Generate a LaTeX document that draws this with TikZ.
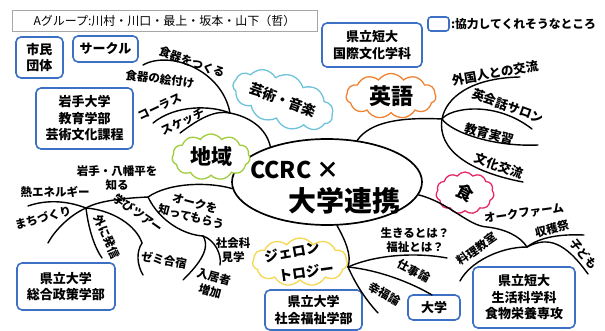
\documentclass[tikz,border=0pt]{standalone}
\usepackage{fontspec}
\setmainfont{Noto Sans CJK JP}
\usetikzlibrary{shapes.symbols,shapes.geometric}
\definecolor{boxblue}{RGB}{60,112,196}
\definecolor{chiikigreen}{RGB}{160,205,60}
\definecolor{artblue}{RGB}{110,195,220}
\definecolor{engorange}{RGB}{240,130,50}
\definecolor{foodpink}{RGB}{230,40,100}
\definecolor{geroyellow}{RGB}{245,215,80}
\tikzset{
  box/.style={draw=boxblue,line width=1.6pt,rounded corners=5pt,fill=white,align=center,inner sep=0pt,font=\fontsize{13}{16.5}\selectfont\bfseries},
  lbl/.style={font=\fontsize{11.5}{14.5}\selectfont\bfseries,inner sep=0.5pt,align=center},
  biglbl/.style={lbl,font=\fontsize{12.5}{15}\selectfont\bfseries},
  branch/.style={line width=1.4pt,line cap=round},
  puff/.style={cloud,cloud puffs=11,cloud puff arc=110,cloud ignores aspect,draw,line width=1.3pt,fill=white,inner sep=0pt}
}
\begin{document}
\begin{tikzpicture}[x=1pt,y=-1pt]
\useasboundingbox (0,0) rectangle (605,331);
% boxes
\node[draw=gray!70,line width=0.6pt,minimum width=305pt,minimum height=21pt,inner sep=0pt,font=\fontsize{12}{14}\selectfont] (team) at (164.5,20.5) {Aグループ:川村・川口・最上・坂本・山下（哲）};
\node[box,minimum width=21pt,minimum height=14pt,rounded corners=3pt] (key) at (438.5,24) {};
\node[anchor=west,inner sep=1pt,font=\fontsize{11.8}{14}\selectfont\bfseries] (keytext) at (key.east) {:協力してくれそうなところ};
\node[box,minimum width=100pt,minimum height=44pt] (kokusai) at (372,45) {県立短大\\国際文化学科};
\node[box,minimum width=47pt,minimum height=41pt] (shimin) at (39.5,57.5) {市民\\団体};
\node[box,minimum width=65pt,minimum height=26pt] (circle) at (105.5,49) {サークル};
\node[box,minimum width=97pt,minimum height=61pt] (iwate) at (84.5,118.5) {岩手大学\\教育学部\\芸術文化課程};
\node[box,minimum width=98pt,minimum height=47pt] (sougou) at (66,286.5) {県立大学\\総合政策学部};
\node[box,minimum width=97pt,minimum height=40pt] (shafuku) at (313.5,310) {県立大学\\社会福祉学部};
\node[box,minimum width=52pt,minimum height=25pt] (univ) at (434,307.5) {大学};
\node[box,minimum width=102pt,minimum height=61pt] (seikatsu) at (524,297.5) {県立短大\\生活科学科\\食物栄養専攻};
% hub and clouds
\node[ellipse,draw,line width=1.7pt,fill=white,minimum width=190pt,minimum height=86pt] (hub) at (327,182) {};
\node[font=\fontsize{23}{23}\selectfont\bfseries] (hubtop) at (295,170) {CCRC ×};
\node[font=\fontsize{28}{28}\selectfont\bfseries] (hubbot) at (344,201) {大学連携};
\node[puff,draw=artblue,minimum width=105pt,minimum height=52pt,rotate=-20,font=\fontsize{14}{14}\selectfont\bfseries] (art) at (283,100) {芸術・音楽};
\node[puff,draw=engorange,minimum width=90pt,minimum height=45pt,font=\fontsize{22}{22}\selectfont\bfseries] (eng) at (391,96) {英語};
\node[puff,draw=chiikigreen,minimum width=78pt,minimum height=46pt,font=\fontsize{21}{21}\selectfont\bfseries] (chiiki) at (211,157) {地域};
\node[puff,draw=foodpink,minimum width=58pt,minimum height=42pt] (food) at (465,193) {};
\node[font=\fontsize{17}{17}\selectfont\bfseries,rotate=-28] (foodtext) at (food.center) {食};
\node[puff,draw=geroyellow,minimum width=95pt,minimum height=48pt] (gero) at (300,262) {};
\node[lbl,font=\fontsize{14}{14}\selectfont\bfseries,rotate=10] (gero1) at (292,252) {ジェロン};
\node[lbl,font=\fontsize{14}{14}\selectfont\bfseries,rotate=8] (gero2) at (306,272) {トロジー};
% junctions and loose ends
\coordinate (artjn) at (230,113); \coordinate (engjn) at (442,119);
\coordinate (foodjn) at (527,247); \coordinate (gerojn) at (348,267);
\coordinate (chiikijn) at (148,197); \coordinate (westjn) at (86,208);
\coordinate (oakjn) at (203,236); \coordinate (manabijn) at (142,243);
\coordinate (tsukuru) at (143,65); \coordinate (chorus) at (153,123); \coordinate (sketch) at (180,133);
\coordinate (gaikoku) at (520,77); \coordinate (salon) at (532,129);
\coordinate (jisshu) at (538,145); \coordinate (bunka) at (523,182);
\coordinate (oakfarm) at (487,227); \coordinate (shukaku) at (584,235);
\coordinate (kodomo) at (588,274); \coordinate (ryori) at (460,281);
\coordinate (fukushi) at (447,258); \coordinate (shigoto) at (432,295); \coordinate (koufuku) at (378,313);
\coordinate (netsu) at (28,206); \coordinate (machi) at (48,243); \coordinate (hasshin) at (102,258);
\coordinate (zemi) at (143,275); \coordinate (nyukyo) at (183,280); \coordinate (kengaku) at (220,265);
% art
\draw[branch] (hub.148) .. controls (266,128) and (250,117) .. (artjn);
\draw[branch] (tsukuru) .. controls (170,50) and (222,70) .. (artjn);
\draw[branch] (chorus) .. controls (175,105) and (210,105) .. (artjn);
\draw[branch] (sketch) .. controls (200,118) and (215,110) .. (artjn);
% english
\draw[branch] (hub.54) .. controls (370,122) and (400,117) .. (engjn);
\draw[branch] (engjn) .. controls (446,98) and (470,78) .. (gaikoku);
\draw[branch] (engjn) .. controls (450,108) and (495,100) .. (salon);
\draw[branch] (engjn) .. controls (452,133) and (495,147) .. (jisshu);
\draw[branch] (engjn) .. controls (437,150) and (470,172) .. (bunka);
% food
\draw[branch] (hub.-8) .. controls (450,203) and (468,226) .. (oakfarm) .. controls (505,229) and (520,236) .. (foodjn);
\draw[branch] (foodjn) .. controls (540,237) and (560,234) .. (shukaku);
\draw[branch] (foodjn) .. controls (548,236) and (565,242) .. (kodomo);
\draw[branch] (foodjn) .. controls (500,247) and (470,262) .. (ryori);
% gerontology
\draw[branch] (hub.-77) .. controls (345,240) and (352,255) .. (gerojn);
\draw[branch] (gerojn) .. controls (375,255) and (415,252) .. (fukushi);
\draw[branch] (gerojn) .. controls (378,270) and (410,282) .. (shigoto);
\draw[branch] (gerojn) .. controls (356,285) and (366,300) .. (koufuku);
% region
\draw[branch] (hub.184) .. controls (210,182) and (170,182) .. (chiikijn);
\draw[branch] (chiikijn) .. controls (128,198) and (100,200) .. (westjn);
\draw[branch] (chiikijn) .. controls (160,222) and (185,235) .. (oakjn);
\draw[branch] (oakjn) .. controls (212,250) and (195,268) .. (nyukyo);
\draw[branch] (oakjn) .. controls (215,240) and (222,255) .. (kengaku);
\draw[branch] (westjn) .. controls (65,200) and (45,200) .. (netsu);
\draw[branch] (westjn) .. controls (70,215) and (55,230) .. (machi);
\draw[branch] (westjn) .. controls (88,225) and (93,245) .. (hasshin);
\draw[branch] (westjn) .. controls (112,210) and (136,225) .. (manabijn) .. controls (136,252) and (137,265) .. (zemi);
% labels
\node[lbl,rotate=-20] (l-tsukuru) at (192,62) {食器をつくる};
\node[lbl,rotate=-7] (l-etsuke) at (160,79) {食器の絵付け};
\node[lbl,rotate=25] (l-chorus) at (160,107) {コーラス};
\node[lbl,rotate=25] (l-sketch) at (183,122) {スケッチ};
\node[biglbl,rotate=10] (l-gaikoku) at (495,73) {外国人との交流};
\node[biglbl,rotate=-20] (l-salon) at (508,106) {英会話サロン};
\node[biglbl,rotate=-15] (l-jisshu) at (489,134) {教育実習};
\node[biglbl,rotate=-20] (l-bunka) at (499,166) {文化交流};
\node[lbl,rotate=8] (l-oakfarm) at (524,213) {オークファーム};
\node[lbl,rotate=15] (l-shukaku) at (552,229) {収穫祭};
\node[lbl,rotate=-50] (l-kodomo) at (584,254) {子ども};
\node[lbl,rotate=35] (l-ryori) at (477,249) {料理教室};
\node[lbl] (l-ikiru) at (415,240) {生きるとは？\\福祉とは？};
\node[lbl,rotate=-28] (l-shigoto) at (414,271) {仕事論};
\node[lbl,rotate=-30] (l-koufuku) at (385,294) {幸福論};
\node[lbl] (l-hachiman) at (117,178) {岩手・八幡平を\\知る};
\node[lbl] (l-netsu) at (55,192) {熱エネルギー};
\node[lbl,rotate=15] (l-machi) at (43,218) {まちづくり};
\node[lbl,rotate=-65] (l-hasshin) at (107,237) {外に発信};
\node[lbl,rotate=-35] (l-manabi) at (138,213) {学びツアー};
\node[lbl,rotate=-10] (l-zemi) at (164,260) {ゼミ合宿};
\node[lbl,rotate=-15] (l-oakknow) at (193,210) {オークを\\知ってもらう};
\node[lbl] (l-kengaku) at (233,250) {社会科\\見学};
\node[lbl,rotate=-15] (l-nyukyo) at (212,284) {入居者\\増加};
\end{tikzpicture}
\end{document}
